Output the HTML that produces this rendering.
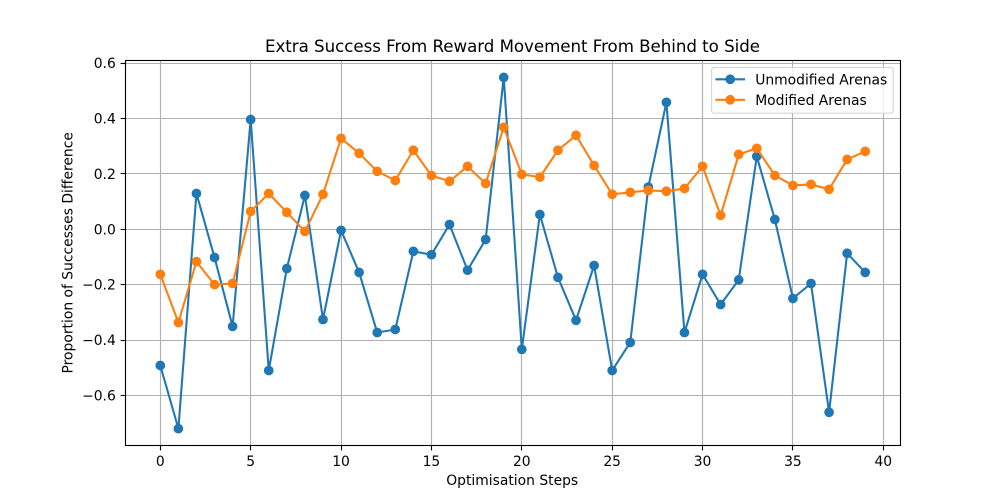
<!DOCTYPE html>
<html lang="en">
<head>
<meta charset="utf-8">
<title>Extra Success From Reward Movement From Behind to Side</title>
<style>
html,body{margin:0;padding:0;background:#fff;}
svg{display:block;}
text{font-family:"DejaVu Sans","Liberation Sans",sans-serif;fill:#000;}
</style>
</head>
<body>
<svg id="chart" xmlns="http://www.w3.org/2000/svg" width="1000" height="500" viewBox="0 0 1000 500">
  <rect x="0" y="0" width="1000" height="500" fill="#ffffff"/>
  <g id="grid"></g>
  <g id="series"></g>
  <rect x="125.5" y="60.5" width="775" height="385" fill="none" stroke="#000" stroke-width="1.11"/>
  <g id="ticks"></g>
  <text x="265" y="52" font-size="16.67" textLength="495" lengthAdjust="spacing">Extra Success From Reward Movement From Behind to Side</text>
  <text x="512.2" y="485" font-size="13.89" text-anchor="middle">Optimisation Steps</text>
  <text x="0" y="0" font-size="13.89" text-anchor="middle" transform="translate(72.4 252.8) rotate(-90)">Proportion of Successes Difference</text>
  <g>
    <rect x="711.6" y="67.4" width="181.7" height="45.8" rx="2.8" ry="2.8" fill="#ffffff" fill-opacity="0.8" stroke="#cccccc" stroke-opacity="0.8" stroke-width="1.11"/>
    <g>
      <line x1="715.4" y1="79.3" x2="745" y2="79.3" stroke="#1f77b4" stroke-width="2.08"/>
      <circle cx="730.2" cy="79.3" r="4.17" fill="#1f77b4" stroke="#1f77b4" stroke-width="1.39"/>
      <text x="755.2" y="84.6" font-size="13.89">Unmodified Arenas</text>
    </g>
    <g>
      <line x1="715.4" y1="99.8" x2="745" y2="99.8" stroke="#ff7f0e" stroke-width="2.08"/>
      <circle cx="730.2" cy="99.8" r="4.17" fill="#ff7f0e" stroke="#ff7f0e" stroke-width="1.39"/>
      <text x="755.2" y="105" font-size="13.89">Modified Arenas</text>
    </g>
  </g>
</svg>
<script>
var steps = [0,1,2,3,4,5,6,7,8,9,10,11,12,13,14,15,16,17,18,19,20,21,22,23,24,25,26,27,28,29,30,31,32,33,34,35,36,37,38,39];
var unmodifiedArenas = [-0.492,-0.72,0.129,-0.102,-0.351,0.396,-0.51,-0.142,0.122,-0.326,-0.004,-0.156,-0.373,-0.362,-0.08,-0.092,0.017,-0.148,-0.037,0.548,-0.434,0.053,-0.174,-0.329,-0.131,-0.51,-0.409,0.152,0.458,-0.373,-0.163,-0.272,-0.183,0.263,0.035,-0.25,-0.196,-0.661,-0.087,-0.156];
var modifiedArenas = [-0.163,-0.337,-0.117,-0.2,-0.196,0.064,0.129,0.061,-0.008,0.126,0.328,0.274,0.209,0.176,0.285,0.194,0.173,0.227,0.165,0.368,0.198,0.188,0.285,0.339,0.23,0.126,0.133,0.14,0.137,0.147,0.227,0.05,0.27,0.292,0.194,0.158,0.162,0.144,0.252,0.281];
var xTicks = [0,5,10,15,20,25,30,35,40];
var yTicks = [-0.6,-0.4,-0.2,0,0.2,0.4,0.6];

var NS = 'http://www.w3.org/2000/svg';
function xScale(v){ return 160.3 + v * 18.075; }
function yScale(v){ return 229.2 - v * 277; }
function snap(p){ return Math.round(p - 0.5) + 0.5; }
function make(tag, attrs, parent){
  var el = document.createElementNS(NS, tag);
  for (var k in attrs) { el.setAttribute(k, attrs[k]); }
  parent.appendChild(el);
  return el;
}
var gridG = document.getElementById('grid');
var tickG = document.getElementById('ticks');
var seriesG = document.getElementById('series');

xTicks.forEach(function(t){
  var x = snap(xScale(t));
  var g = make('line', {x1:x, x2:x, y1:60.5, y2:445.5, stroke:'#b0b0b0', 'stroke-width':1.11}, gridG);
  
  
  var m = make('line', {x1:x, x2:x, y1:445.5, y2:450.4, stroke:'#000', 'stroke-width':1.11}, tickG);
  
  
  var l = make('text', {x:xScale(t), y:466, 'font-size':13.89, 'text-anchor':'middle'}, tickG);
  
  
  l.textContent = String(t);
});
yTicks.forEach(function(t){
  var y = snap(yScale(t));
  var g = make('line', {x1:125.5, x2:900.5, y1:y, y2:y, stroke:'#b0b0b0', 'stroke-width':1.11}, gridG);
  
  
  var m = make('line', {x1:120.6, x2:125.5, y1:y, y2:y, stroke:'#000', 'stroke-width':1.11}, tickG);
  
  
  var l = make('text', {x:115.8, y:yScale(t) + 5.1, 'font-size':13.89, 'text-anchor':'end'}, tickG);
  
  
  l.textContent = (t < 0 ? '\u2212' : '') + Math.abs(t).toFixed(1);
});
function drawSeries(values, color, name){
  var pts = values.map(function(v, i){ return xScale(steps[i]).toFixed(2) + ',' + yScale(v).toFixed(2); }).join(' ');
  var group = make('g', {}, seriesG);
  
  
  var line = make('polyline', {points:pts, fill:'none', stroke:color, 'stroke-width':2.08, 'stroke-linejoin':'round', 'stroke-linecap':'square'}, group);
  
  
  values.forEach(function(v, i){
    var c = make('circle', {cx:xScale(steps[i]).toFixed(2), cy:yScale(v).toFixed(2), r:4.17, fill:color, stroke:color, 'stroke-width':1.39}, group);
    
    
  });
}
drawSeries(unmodifiedArenas, '#1f77b4', 'unmodified-arenas');
drawSeries(modifiedArenas, '#ff7f0e', 'modified-arenas');
</script>
</body>
</html>
